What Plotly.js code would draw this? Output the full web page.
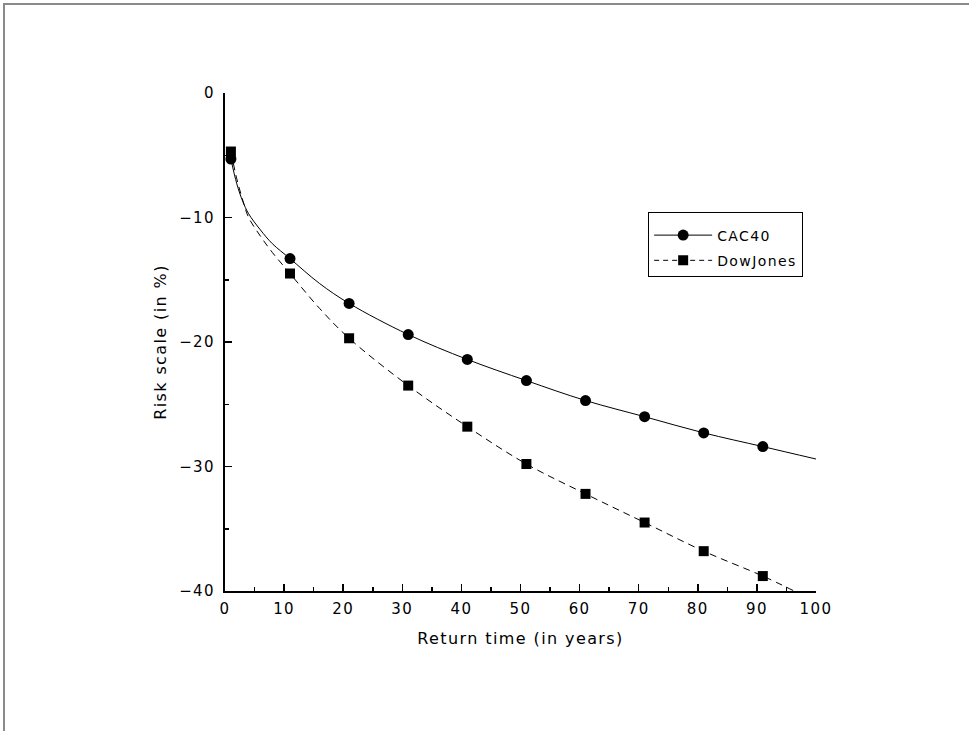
<!DOCTYPE html>
<html>
<head>
<meta charset="utf-8">
<script src="https://cdn.plot.ly/plotly-3.0.1.min.js"></script>
<style>
  html, body { margin: 0; padding: 0; background: #fff; }
  #wrap { position: relative; width: 969px; height: 731px; overflow: hidden; }
  #frame { position: absolute; left: 3px; top: 3px; right: 0; bottom: 0;
           border-top: 2px solid #8a8a8a; border-left: 2px solid #8a8a8a; pointer-events: none; }
  #chart { position: absolute; left: 0; top: 0; width: 969px; height: 731px; }
  svg text { letter-spacing: 1.4px; }
</style>
</head>
<body>
<div id="wrap">
  <div id="chart"></div>
  <div id="frame"></div>
</div>
<script>
// Marker positions (return time, years) and risk scale values (%)
const returnTime = [1, 11, 21, 31, 41, 51, 61, 71, 81, 91];
const cac40 = [-5.3, -13.3, -16.9, -19.4, -21.4, -23.1, -24.7, -26.0, -27.3, -28.4];
const dowJones = [-4.7, -14.5, -19.7, -23.5, -26.8, -29.8, -32.2, -34.5, -36.8, -38.8];

// Fitted curves, points
const cacCurveX = [1, 2, 3, 4, 6, 8, 11, 16, 21, 31, 41, 51, 61, 71, 81, 91, 100];
const cacCurveY = [-5.3, -7.3, -8.7, -9.7, -11.0, -12.1, -13.3, -15.3, -16.9, -19.4, -21.4, -23.1, -24.7, -26.0, -27.3, -28.4, -29.4];
const dowCurveX = [1, 2, 3, 4, 6, 8, 11, 16, 21, 31, 41, 51, 61, 71, 81, 91, 96.3];
const dowCurveY = [-4.7, -6.9, -8.6, -10.0, -11.5, -12.8, -14.5, -17.3, -19.7, -23.5, -26.8, -29.8, -32.2, -34.5, -36.8, -38.8, -40.0];

const seriesNames = ['CAC40', 'DowJones'];

const FONT = 'DejaVu Sans, sans-serif';
const DASH = '7px,5px';

const traces = [
  { x: cacCurveX, y: cacCurveY, mode: 'lines', line: {color: '#000', width: 1, shape: 'spline'},
    showlegend: false, hoverinfo: 'skip' },
  { x: dowCurveX, y: dowCurveY, mode: 'lines', line: {color: '#000', width: 1, dash: DASH, shape: 'spline'},
    showlegend: false, hoverinfo: 'skip' },
  { x: returnTime, y: cac40, mode: 'markers', showlegend: false,
    marker: {symbol: 'circle', size: 11, color: '#000'} },
  { x: returnTime, y: dowJones, mode: 'markers', showlegend: false,
    marker: {symbol: 'square', size: 10, color: '#000'} },
  // legend entries (no data of their own)
  { x: [null], y: [null], name: seriesNames[0], mode: 'lines+markers', legendgroup: 'g1',
    line: {color: '#000', width: 1}, marker: {symbol: 'circle', size: 11, color: '#000'} },
  { x: [null], y: [null], name: seriesNames[1], mode: 'lines+markers', legendgroup: 'g2',
    line: {color: '#000', width: 1, dash: '5px,4px'}, marker: {symbol: 'square', size: 10, color: '#000'} }
];

const axisCommon = {
  showline: true, linecolor: '#000', linewidth: 2, mirror: false,
  showgrid: false, zeroline: false,
  ticks: 'inside', ticklen: 7, tickwidth: 1.5, tickcolor: '#000',
  tickfont: {family: FONT, size: 15, color: '#000'},
  minor: {ticks: 'inside', ticklen: 4, tickwidth: 1.5, tickcolor: '#000', showgrid: false},
  fixedrange: true
};

const layout = {
  width: 969, height: 731,
  margin: {l: 225, r: 153, t: 93, b: 140},
  paper_bgcolor: '#fff', plot_bgcolor: '#fff',
  font: {family: FONT, size: 14, color: '#000'},
  xaxis: Object.assign({}, axisCommon, {
    range: [0, 100], dtick: 10, tick0: 0,
    ticklabelstandoff: 3,
    minor: Object.assign({}, axisCommon.minor, {dtick: 5}),
    title: {text: 'Return time (in years)', font: {family: FONT, size: 16, color: '#000'}, standoff: 16}
  }),
  yaxis: Object.assign({}, axisCommon, {
    range: [-40, 0], dtick: 10, tick0: 0,
    ticklabelstandoff: 5,
    minor: Object.assign({}, axisCommon.minor, {dtick: 5}),
    title: {text: 'Risk scale (in %)', font: {family: FONT, size: 16, color: '#000'}, standoff: 9}
  }),
  legend: {
    x: 0.716, y: 0.761, xanchor: 'left', yanchor: 'top',
    bordercolor: '#000', borderwidth: 1, bgcolor: '#fff',
    font: {family: FONT, size: 14, color: '#000'},
    title: {text: ' ', font: {size: 5}},
    itemwidth: 58, tracegroupgap: 4
  },
  showlegend: true
};

Plotly.newPlot('chart', traces, layout, {displayModeBar: false, staticPlot: true});
</script>
</body>
</html>
